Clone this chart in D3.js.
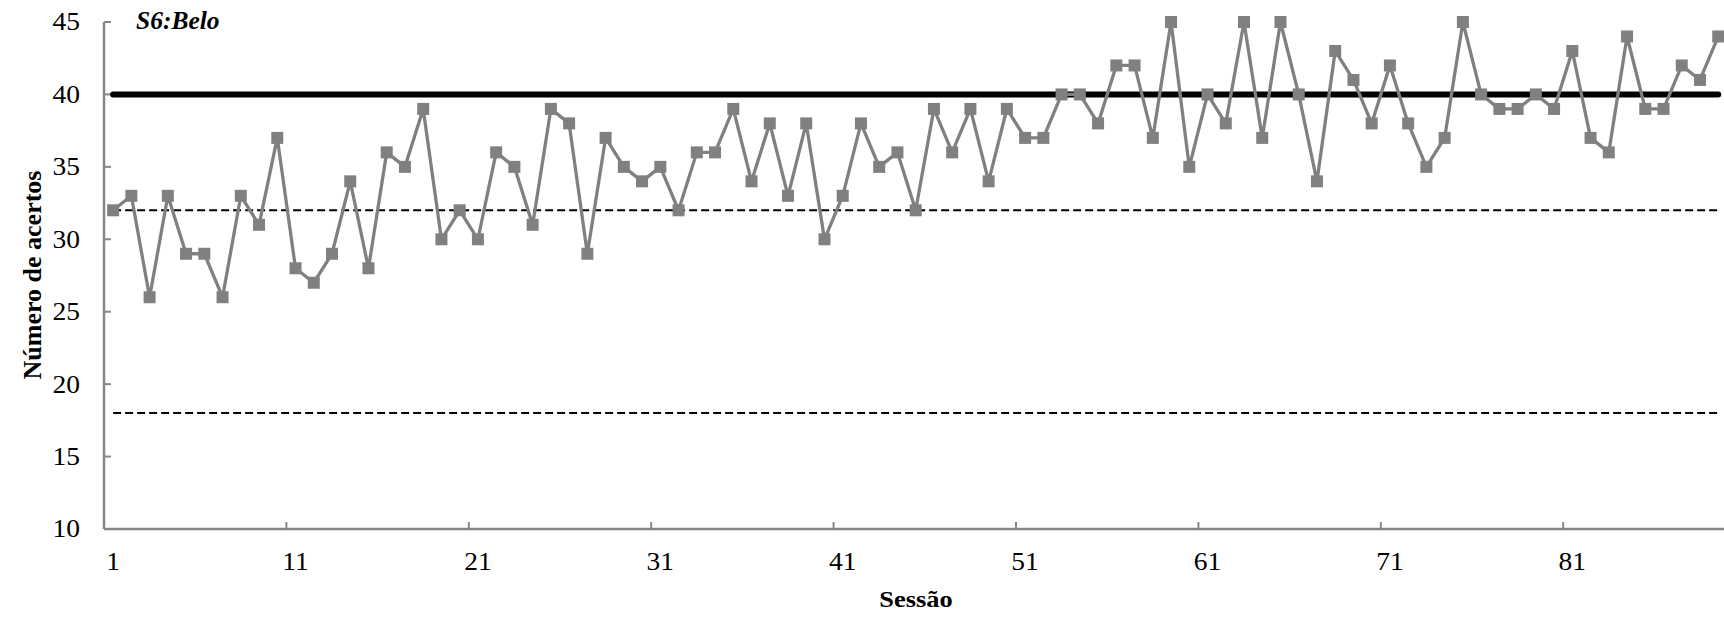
<!DOCTYPE html>
<html>
<head>
<meta charset="utf-8">
<script src="https://cdn.jsdelivr.net/npm/d3@7"></script>
<style>
  html, body { margin: 0; padding: 0; background: #fff; overflow: hidden; }
  svg { display: block; }
  text { font-family: "Liberation Serif", "Times New Roman", serif; fill: #000; }
</style>
</head>
<body>
<svg id="chart" width="1724" height="617"></svg>
<script>
// ---- data ----
const sessions = d3.range(1, 90);
const acertos = [
  32, 33, 26, 33, 29, 29, 26, 33, 31, 37,
  28, 27, 29, 34, 28, 36, 35, 39, 30, 32,
  30, 36, 35, 31, 39, 38, 29, 37, 35, 34,
  35, 32, 36, 36, 39, 34, 38, 33, 38, 30,
  33, 38, 35, 36, 32, 39, 36, 39, 34, 39,
  37, 37, 40, 40, 38, 42, 42, 37, 45, 35,
  40, 38, 45, 37, 45, 40, 34, 43, 41, 38,
  42, 38, 35, 37, 45, 40, 39, 39, 40, 39,
  43, 37, 36, 44, 39, 39, 42, 41, 44
];
const xTickLabels = [1, 11, 21, 31, 41, 51, 61, 71, 81];
const yTicks = [10, 15, 20, 25, 30, 35, 40, 45];
const criterion = 40;      // thick solid line
const dashedLevels = [32, 18];
const title = "S6:Belo";
const xTitle = "Sessão";
const yTitle = "Número de acertos";

// ---- layout ----
const svg = d3.select("#chart");
const plotLeft = 104, plotTop = 22, plotBottom = 529;
const catW = 18.24;
const plotRight = plotLeft + catW * sessions.length;

const x = d3.scaleBand().domain(sessions).range([plotLeft, plotRight]).paddingInner(0).paddingOuter(0);
const xc = d => x(d) + x.bandwidth() / 2;
const y = d3.scaleLinear().domain([10, 45]).range([plotBottom, plotTop]);

const axisColor = "#868686";
const fs = 25;

// y axis line
svg.append("line").attr("x1", plotLeft).attr("x2", plotLeft).attr("y1", plotTop).attr("y2", plotBottom)
  .attr("stroke", axisColor).attr("stroke-width", 2.5);
// y ticks (inside)
svg.append("g").selectAll("line").data(yTicks).join("line")
  .attr("x1", plotLeft).attr("x2", plotLeft + 7)
  .attr("y1", d => y(d)).attr("y2", d => y(d))
  .attr("stroke", axisColor).attr("stroke-width", 2);
svg.append("g").selectAll("text").data(yTicks).join("text")
  .attr("x", 80).attr("y", d => y(d) + 8.5)
  .attr("text-anchor", "end").attr("font-size", fs)
  .attr("transform", "translate(80,0) scale(1.1,1) translate(-80,0)")
  .text(d => d);

// x axis line
svg.append("line").attr("x1", plotLeft).attr("x2", plotRight).attr("y1", plotBottom).attr("y2", plotBottom)
  .attr("stroke", axisColor).attr("stroke-width", 2.5);
// x ticks at category boundaries every 10
const boundaries = sessions.filter(s => s > 1 && (s - 1) % 10 === 0);
svg.append("g").selectAll("line").data(boundaries).join("line")
  .attr("x1", d => x(d)).attr("x2", d => x(d))
  .attr("y1", plotBottom).attr("y2", plotBottom - 7)
  .attr("stroke", axisColor).attr("stroke-width", 2);
svg.append("g").selectAll("text").data(xTickLabels).join("text")
  .attr("x", d => xc(d)).attr("y", 570)
  .attr("text-anchor", "middle").attr("font-size", fs)
  .attr("transform", d => `translate(${xc(d)},0) scale(1.1,1) translate(${-xc(d)},0)`)
  .text(d => d);

// reference lines
const first = xc(sessions[0]), last = xc(sessions[sessions.length - 1]);
svg.append("g").selectAll("line").data(dashedLevels).join("line")
  .attr("x1", first).attr("x2", last)
  .attr("y1", d => y(d)).attr("y2", d => y(d))
  .attr("stroke", "#000").attr("stroke-width", 2).attr("stroke-dasharray", "8,4");
svg.append("line")
  .attr("x1", first).attr("x2", last)
  .attr("y1", y(criterion)).attr("y2", y(criterion))
  .attr("stroke", "#000").attr("stroke-width", 6).attr("stroke-linecap", "round");

// series
const data = sessions.map((s, i) => ({ s, v: acertos[i] }));
svg.append("path").datum(data)
  .attr("fill", "none").attr("stroke", "#808080").attr("stroke-width", 3.3)
  .attr("stroke-linejoin", "round")
  .attr("d", d3.line().x(d => xc(d.s)).y(d => y(d.v)));
const ms = 12;
svg.append("g").selectAll("rect").data(data).join("rect")
  .attr("x", d => xc(d.s) - ms / 2).attr("y", d => y(d.v) - ms / 2)
  .attr("width", ms).attr("height", ms)
  .attr("fill", "#808080");

// titles
svg.append("text").attr("x", 136).attr("y", 29)
  .attr("font-size", 25.5).attr("font-weight", "bold").attr("font-style", "italic")
  .text(title);
svg.append("text").attr("x", 916).attr("y", 607)
  .attr("text-anchor", "middle").attr("font-size", 24).attr("font-weight", "bold")
  .attr("transform", "translate(916,0) scale(1.1,1) translate(-916,0)")
  .text(xTitle);
svg.append("text")
  .attr("transform", "translate(41,275) rotate(-90)")
  .attr("text-anchor", "middle").attr("font-size", 26).attr("font-weight", "bold")
  .text(yTitle);
</script>
</body>
</html>
